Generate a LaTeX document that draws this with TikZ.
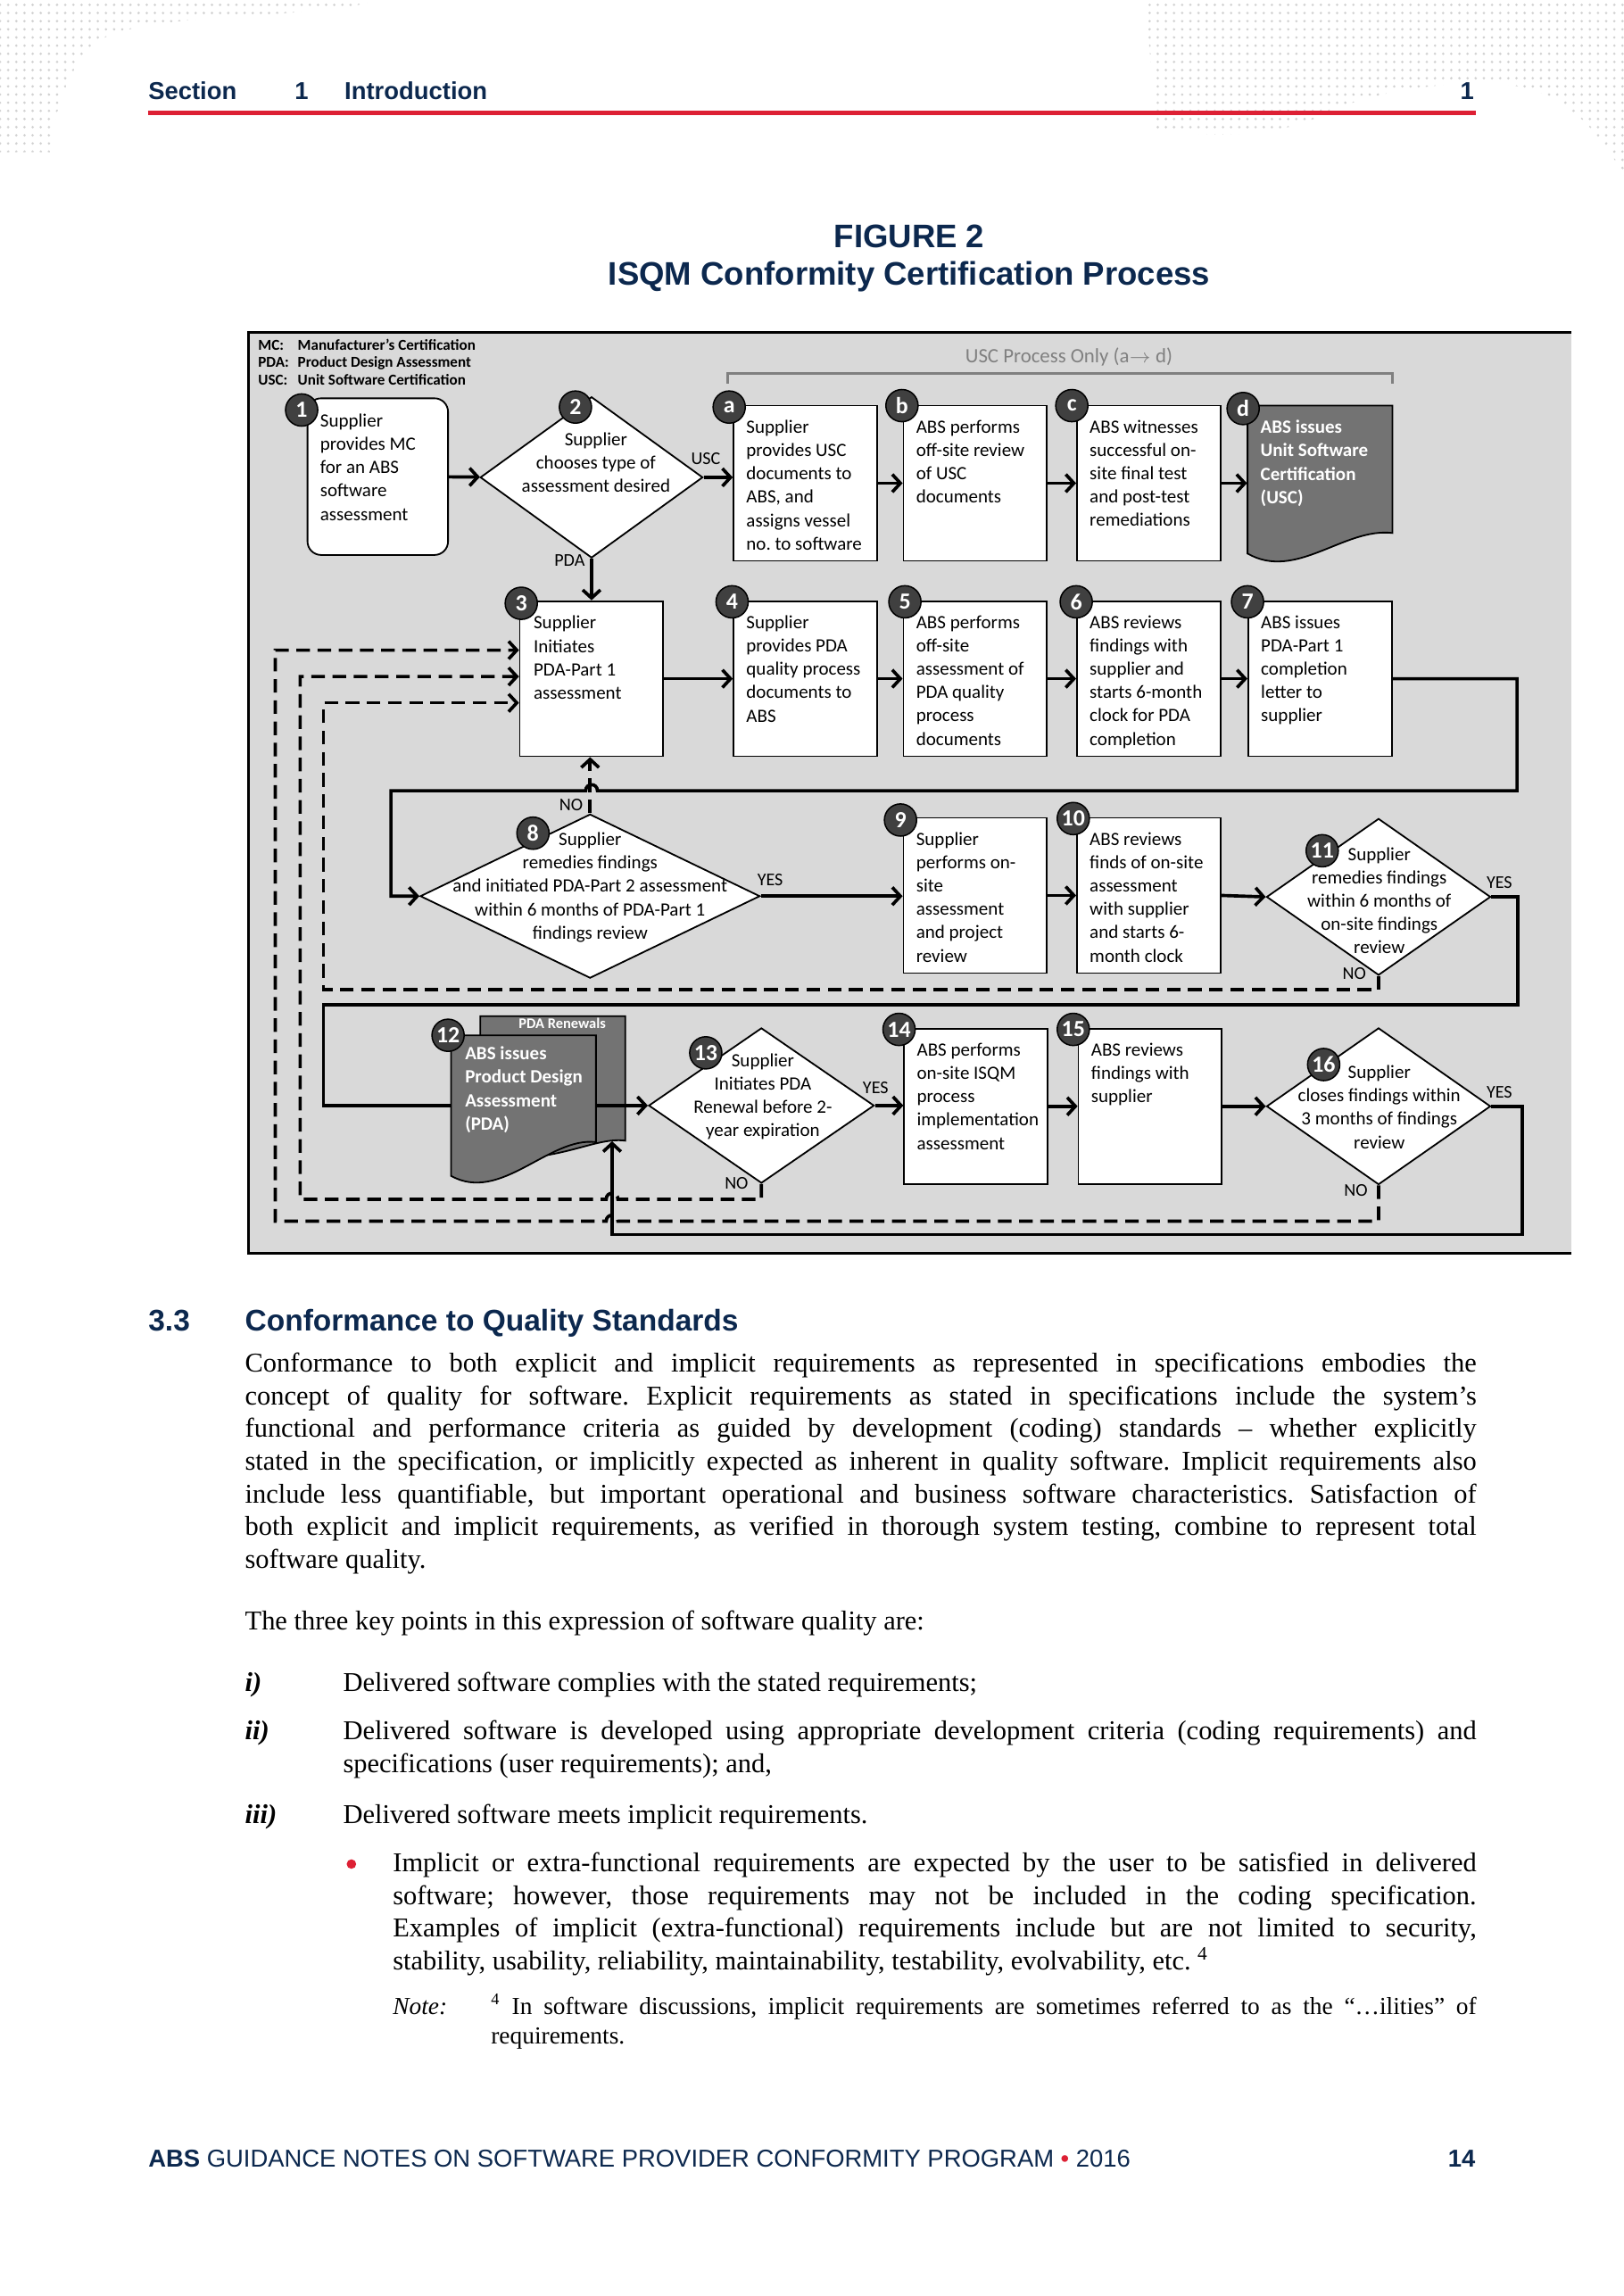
\documentclass[tikz,border=0pt]{standalone}
\usepackage{fontspec}
\setmainfont{Liberation Serif}
\newfontfamily\calfont{Carlito}
\newfontfamily\arialfont{Liberation Sans}
\usepackage{tikz}
\usetikzlibrary{positioning, arrows.meta, shapes.geometric, patterns}
\definecolor{absnavy}{RGB}{12,40,78}
\definecolor{absred}{RGB}{221,32,52}
\definecolor{figgray}{RGB}{217,217,217}
\definecolor{docgray}{RGB}{115,115,115}
\definecolor{badgegray}{RGB}{64,64,64}
\definecolor{brackgray}{RGB}{128,128,128}
\newdimen\pxlen \pxlen=0.018936cm
\newcommand{\fullline}[2]{\makebox[#1\pxlen][s]{#2}}
\frenchspacing

\begin{document}
\begin{tikzpicture}[x=\pxlen, y=-\pxlen,
    flow/.style={line width=1.2pt, -{Straight Barb[length=3pt,width=6.5pt]}},
    link/.style={line width=1.2pt},
    back/.style={flow, dash pattern=on 5pt off 2.8pt},
    stepbox/.style={draw, fill=white, line width=0.6pt, minimum width=98*\pxlen, minimum height=106*\pxlen, inner sep=0},
    decision/.style={draw, fill=white, diamond, line width=0.6pt, inner sep=0},
    badge/.style={circle, draw=black, line width=0.5pt, fill=badgegray, text=white, inner sep=0, minimum size=22*\pxlen, font=\calfont\bfseries\fontsize{8.5}{8.5}\selectfont},
    steptxt/.style={inner sep=0, align=left, font=\calfont\fontsize{6.9}{8.6}\selectfont},
    dectxt/.style={inner sep=0, align=center, font=\calfont\fontsize{6.9}{8.6}\selectfont},
    doctxt/.style={steptxt, text=white, font=\calfont\bfseries\fontsize{6.9}{8.6}\selectfont},
    branch/.style={inner sep=0, font=\calfont\fontsize{6.6}{6.6}\selectfont},
    body/.style={inner sep=0, anchor=base west, font=\fontsize{10}{12}\selectfont},
    head/.style={inner sep=0, anchor=base west, text=absnavy, font=\arialfont\bfseries\fontsize{9}{9}\selectfont}]

    \useasboundingbox (0,0) rectangle (1109,1568);

    % Page decoration
    \fill[pattern=dots, pattern color=gray!35] (0,0) -- (262,0) .. controls (200,14) and (120,8) .. (75,24) .. controls (50,35) and (38,70) .. (34,104) -- (0,104) -- cycle;
    \fill[pattern=dots, pattern color=gray!35] (782,0) -- (1109,0) -- (1109,120) .. controls (1090,85) and (1065,62) .. (1030,58) .. controls (985,54) and (930,64) .. (900,80) .. controls (870,94) and (820,94) .. (790,88) -- cycle;

    % Running head
    \node[head] (hsec) at (101,68) {Section};
    \node[head] (hnum) at (201,68) {1};
    \node[head] (htitle) at (235,68) {Introduction};
    \node[head, anchor=base east] (hpage) at (1007,68) {1};
    \draw[absred, line width=1.7pt] (101,77) -- (1008,77);

    % Figure caption
    \node[inner sep=0, anchor=base, text=absnavy, font=\arialfont\bfseries\fontsize{12}{12}\selectfont] (fnum) at (621,169) {FIGURE 2};
    \node[inner sep=0, anchor=base, text=absnavy, font=\arialfont\bfseries\fontsize{12}{12}\selectfont] (fname) at (621,195) {ISQM Conformity Certification Process};

    % Figure frame
    \fill[figgray] (170,227) rectangle (1073,856);
    \draw[line width=1pt] (1073,227) -- (170,227) -- (170,856) -- (1073,856);

    % Legend and USC bracket
    \node[anchor=north west, inner sep=0, align=left, font=\calfont\bfseries\fontsize{5.6}{6.5}\selectfont] (legend) at (176,231)
        {\makebox[27\pxlen][l]{MC:}Manufacturer’s Certification\\\makebox[27\pxlen][l]{PDA:}Product Design Assessment\\\makebox[27\pxlen][l]{USC:}Unit Software Certification};
    \draw[brackgray, line width=0.8pt] (497,262) -- (497,255) -- (951,255) -- (951,262);
    \node[inner sep=0, text=brackgray, font=\calfont\fontsize{7.5}{7.5}\selectfont] (uscnote) at (730,244) {USC Process Only (a${\to}$ d)};

    % Row 1
    \node[stepbox, rounded corners=5pt, minimum width=96*\pxlen, minimum height=107*\pxlen] (b1) at (258,325.5) {};
    \node[steptxt, below right=5.8pt and 4.8pt of b1.north west] (t1) {Supplier\\provides MC\\for an ABS\\software\\assessment};
    \node[decision, minimum width=152*\pxlen, minimum height=110*\pxlen] (d2) at (404,326) {};
    \node[dectxt] (t2) at (407,316) {Supplier\\chooses type of\\assessment desired};
    \node[stepbox] (ba) at (550,330) {};
    \node[steptxt, below right=5.4pt and 4.8pt of ba.north west] (ta) {Supplier\\provides USC\\documents to\\ABS, and\\assigns vessel\\no. to software};
    \node[stepbox] (bb) at (666,330) {};
    \node[steptxt, below right=5.4pt and 4.8pt of bb.north west] (tb) {ABS performs\\off-site review\\of USC\\documents};
    \node[stepbox] (bc) at (784.5,330) {};
    \node[steptxt, below right=5.4pt and 4.8pt of bc.north west] (tc) {ABS witnesses\\successful on-\\site final test\\and post-test\\remediations};
    \draw[fill=docgray, line width=0.6pt] (852,277) -- (951,277) -- (951,364) .. controls (918,360) and (885,397) .. (852,378) -- cycle;
    \node[minimum width=99*\pxlen, minimum height=106*\pxlen, inner sep=0] (bd) at (901.5,330) {};
    \node[doctxt, below right=5.4pt and 4.8pt of bd.north west] (td) {ABS issues\\Unit Software\\Certification\\(USC)};

    % Row 2
    \node[stepbox] (b3) at (404,463.5) {};
    \node[steptxt, below right=5.6pt and 5.2pt of b3.north west] (t3) {Supplier\\Initiates\\PDA-Part 1\\assessment};
    \node[stepbox] (b4) at (550,463.5) {};
    \node[steptxt, below right=5.4pt and 4.8pt of b4.north west] (t4) {Supplier\\provides PDA\\quality process\\documents to\\ABS};
    \node[stepbox] (b5) at (666,463.5) {};
    \node[steptxt, below right=5.4pt and 4.8pt of b5.north west] (t5) {ABS performs\\off-site\\assessment of\\PDA quality\\process\\documents};
    \node[stepbox] (b6) at (784.5,463.5) {};
    \node[steptxt, below right=5.4pt and 4.8pt of b6.north west] (t6) {ABS reviews\\findings with\\supplier and\\starts 6-month\\clock for PDA\\completion};
    \node[stepbox] (b7) at (901.5,463.5) {};
    \node[steptxt, below right=5.4pt and 4.8pt of b7.north west] (t7) {ABS issues\\PDA-Part 1\\completion\\letter to\\supplier};

    % Row 3
    \node[decision, minimum width=232*\pxlen, minimum height=112*\pxlen] (d8) at (403,612) {};
    \node[dectxt] (t8) at (403,606) {Supplier\\remedies findings\\and initiated PDA-Part 2 assessment\\within 6 months of PDA-Part 1\\findings review};
    \node[stepbox] (b9) at (666,611.5) {};
    \node[steptxt, below right=5.4pt and 4.8pt of b9.north west] (t9) {Supplier\\performs on-\\site\\assessment\\and project\\review};
    \node[stepbox] (b10) at (784.5,611.5) {};
    \node[steptxt, below right=5.4pt and 4.8pt of b10.north west] (t10) {ABS reviews\\finds of on-site\\assessment\\with supplier\\and starts 6-\\month clock};
    \node[decision, minimum width=153*\pxlen, minimum height=107*\pxlen] (d11) at (941.5,612.5) {};
    \node[dectxt] (t11) at (942,615) {Supplier\\remedies findings\\within 6 months of\\on-site findings\\review};

    % Row 4
    \draw[fill=docgray, line width=0.6pt] (328,694) -- (427,694) -- (427,779) .. controls (405,776) and (380,796) .. (328,790) -- cycle;
    \node[minimum width=99*\pxlen, minimum height=85*\pxlen, inner sep=0] (b12r) at (377.5,736.5) {};
    \node[inner sep=0, text=white, font=\calfont\bfseries\fontsize{5.4}{5.4}\selectfont] (t12r) at (384,699) {PDA Renewals};
    \draw[fill=docgray, line width=0.6pt] (308,707) -- (407,707) -- (407,780) .. controls (375,776) and (342,822) .. (308,803) -- cycle;
    \node[minimum width=99*\pxlen, minimum height=96*\pxlen, inner sep=0] (b12) at (357.5,755) {};
    \node[doctxt, below right=4.2pt and 5.2pt of b12.north west] (t12) {ABS issues\\Product Design\\Assessment\\(PDA)};
    \node[decision, minimum width=154*\pxlen, minimum height=106*\pxlen] (d13) at (520,755) {};
    \node[dectxt] (t13) at (521,749) {Supplier\\Initiates PDA\\Renewal before 2-\\year expiration};
    \node[stepbox] (b14) at (666.5,755.5) {};
    \node[steptxt, below right=5.4pt and 4.8pt of b14.north west] (t14) {ABS performs\\on-site ISQM\\process\\implementation\\assessment};
    \node[stepbox] (b15) at (785.5,755.5) {};
    \node[steptxt, below right=5.4pt and 4.8pt of b15.north west] (t15) {ABS reviews\\findings with\\supplier};
    \node[decision, minimum width=153*\pxlen, minimum height=107*\pxlen] (d16) at (941.5,755.5) {};
    \node[dectxt] (t16) at (942,756) {Supplier\\closes findings within\\3 months of findings\\review};

    % Branch labels
    \node[branch] (lusc) at (482,313) {USC};
    \node[branch] (lpda) at (389,383) {PDA};
    \node[branch] (lno8) at (390,550) {NO};
    \node[branch] (lyes8) at (526,601) {YES};
    \node[branch] (lyes11) at (1024,603) {YES};
    \node[branch] (lno11) at (925,665) {NO};
    \node[branch] (lyes13) at (598,743) {YES};
    \node[branch] (lno13) at (503,808) {NO};
    \node[branch] (lyes16) at (1024,746) {YES};
    \node[branch] (lno16) at (926,813) {NO};

    % Forward flow
    \draw[flow] (b1) -- (d2);
    \draw[flow] (d2.east) -- (d2.east -| ba.west);
    \draw[flow] (ba) -- (bb);
    \draw[flow] (bb) -- (bc);
    \draw[flow] (bc) -- (bd);
    \draw[flow] (d2.south) -- (b3.north);
    \draw[flow] (b3) -- (b4);
    \draw[flow] (b4) -- (b5);
    \draw[flow] (b5) -- (b6);
    \draw[flow] (b6) -- (b7);
    \draw[flow] (b7.east) -- ++(85,0) |- (408,540) .. controls (408,534.5) and (400,534.5) .. (400,540) -- (267,540) |- (d8.west);
    \draw[flow] (d8.east) -- (d8.east -| b9.west);
    \draw[flow] (b9) -- (b10);
    \draw[flow] (b10.east) -- (d11.west);
    \draw[link] (d11.east) -- ++(18,0) |- (221,686) |- (b12.west);
    \draw[flow] (b12.east) -- (d13.west);
    \draw[flow] (d13.east) -- (d13.east -| b14.west);
    \draw[flow] (b14) -- (b15);
    \draw[flow] (b15) -- (d16);
    \draw[flow] (d16.east) -- ++(21,0) |- (418,843) -- (418,843 |- b12r.south);

    % Loops back to step 3
    \draw[back] (d8.north) -- (d8.north |- b3.south);
    \draw[back] (d11.south) |- (221,676) |- (b3.west |- 221,480);
    \draw[back] (d13.south) |- (422,819) .. controls (422,813.5) and (414,813.5) .. (414,819) -- (205,819) |- (b3.west |- 205,462);
    \draw[back] (d16.south) |- (422,834) .. controls (422,828.5) and (414,828.5) .. (414,834) -- (188,834) |- (b3.west |- 188,444);

    % Step numbers
    \node[badge] (n1) at (206,280) {1};
    \node[badge] (n2) at (393,278) {2};
    \node[badge] (na) at (498,278) {a};
    \node[badge] (nb) at (616,277) {b};
    \node[badge] (nc) at (732,277) {c};
    \node[badge] (nd) at (849,279) {d};
    \node[badge] (n3) at (356,412) {3};
    \node[badge] (n4) at (500,411) {4};
    \node[badge] (n5) at (618,411) {5};
    \node[badge] (n6) at (735,411) {6};
    \node[badge] (n7) at (852,411) {7};
    \node[badge] (n8) at (364,569) {8};
    \node[badge] (n9) at (615,560) {9};
    \node[badge] (n10) at (733,559) {10};
    \node[badge] (n11) at (903,581) {11};
    \node[badge] (n12) at (306,707) {12};
    \node[badge] (n13) at (482,719) {13};
    \node[badge] (n14) at (614,703) {14};
    \node[badge] (n15) at (733,703) {15};
    \node[badge] (n16) at (904,727) {16};

    % Section 3.3
    \node[head, font=\arialfont\bfseries\fontsize{11}{11}\selectfont] (secnum) at (101,909) {3.3};
    \node[head, font=\arialfont\bfseries\fontsize{11}{11}\selectfont] (sectitle) at (167,909) {Conformance to Quality Standards};

    \node[body] (p1a) at (167,937) {\fullline{841}{Conformance to both explicit and implicit requirements as represented in specifications embodies the}};
    \node[body] (p1b) at (167,959.3) {\fullline{841}{concept of quality for software. Explicit requirements as stated in specifications include the system’s}};
    \node[body] (p1c) at (167,981.7) {\fullline{841}{functional and performance criteria as guided by development (coding) standards -- whether explicitly}};
    \node[body] (p1d) at (167,1004) {\fullline{841}{stated in the specification, or implicitly expected as inherent in quality software. Implicit requirements also}};
    \node[body] (p1e) at (167,1026.3) {\fullline{841}{include less quantifiable, but important operational and business software characteristics. Satisfaction of}};
    \node[body] (p1f) at (167,1048.7) {\fullline{841}{both explicit and implicit requirements, as verified in thorough system testing, combine to represent total}};
    \node[body] (p1g) at (167,1071) {software quality.};
    \node[body] (p2) at (167,1113) {The three key points in this expression of software quality are:};

    \node[body] (li1) at (167,1155) {\textbf{\textit{i)}}};
    \node[body] (lt1) at (234,1155) {Delivered software complies with the stated requirements;};
    \node[body] (li2) at (167,1188) {\textbf{\textit{ii)}}};
    \node[body] (lt2a) at (234,1188) {\fullline{774}{Delivered software is developed using appropriate development criteria (coding requirements) and}};
    \node[body] (lt2b) at (234,1210.5) {specifications (user requirements); and,};
    \node[body] (li3) at (167,1245) {\textbf{\textit{iii)}}};
    \node[body] (lt3) at (234,1245) {Delivered software meets implicit requirements.};

    \node[circle, fill=absred, minimum size=6.5*\pxlen, inner sep=0] (bul) at (240,1273) {};
    \node[body] (bt1) at (268,1278) {\fullline{740}{Implicit or extra-functional requirements are expected by the user to be satisfied in delivered}};
    \node[body] (bt2) at (268,1300.5) {\fullline{740}{software; however, those requirements may not be included in the coding specification.}};
    \node[body] (bt3) at (268,1323) {\fullline{740}{Examples of implicit (extra-functional) requirements include but are not limited to security,}};
    \node[body] (bt4) at (268,1345) {stability, usability, reliability, maintainability, testability, evolvability, etc. \textsuperscript{4}};

    \node[body, font=\fontsize{9}{10}\selectfont] (nlab) at (268,1376) {\textit{Note:}};
    \node[body, font=\fontsize{9}{10}\selectfont] (nt1) at (335,1376) {\fullline{673}{\textsuperscript{4} In software discussions, implicit requirements are sometimes referred to as the “…ilities” of}};
    \node[body, font=\fontsize{9}{10}\selectfont] (nt2) at (335,1396) {requirements.};

    % Footer
    \node[head, font=\arialfont\fontsize{9}{9}\selectfont] (foot) at (101,1480) {\textbf{ABS} GUIDANCE NOTES ON SOFTWARE PROVIDER CONFORMITY PROGRAM {\color{absred}•} 2016};
    \node[head, anchor=base east] (fpage) at (1008,1480) {14};
\end{tikzpicture}
\end{document}
